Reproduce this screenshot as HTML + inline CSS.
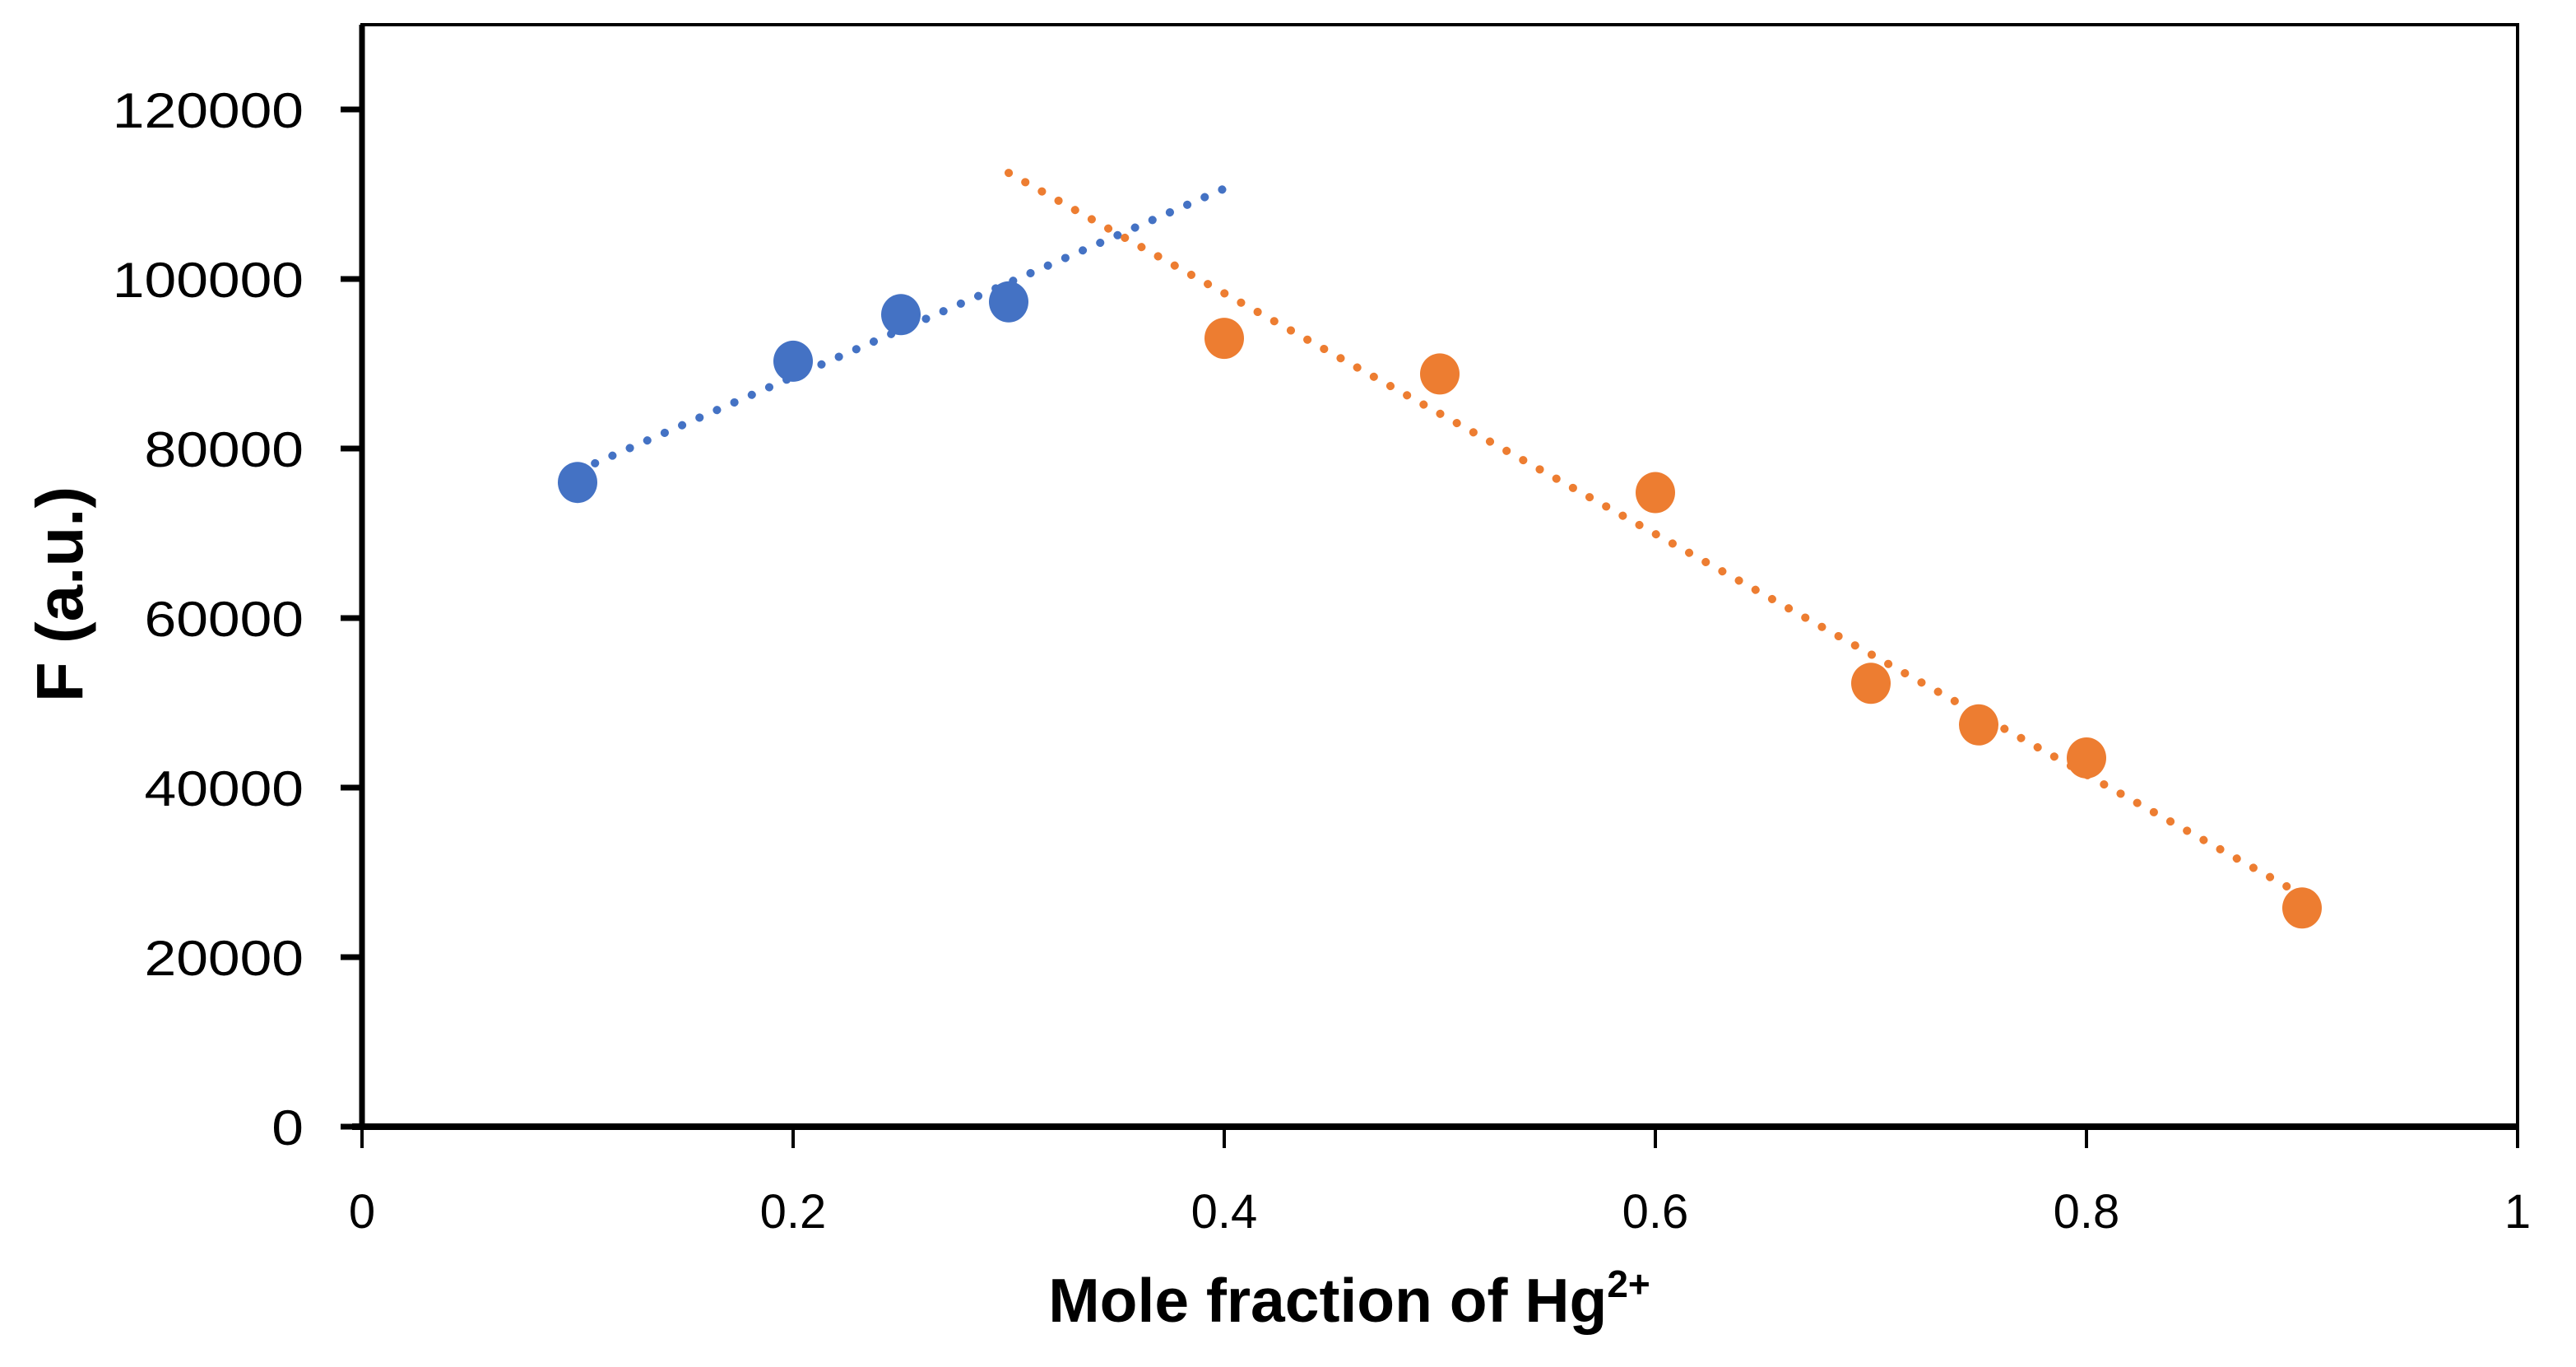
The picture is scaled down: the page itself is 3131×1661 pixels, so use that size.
<!DOCTYPE html>
<html><head><meta charset="utf-8"><style>
html,body{margin:0;padding:0;background:#fff;}
svg{display:block;}
text{font-family:"Liberation Sans",sans-serif;fill:#000;}
</style></head><body>
<svg id="chart" width="3131" height="1661" viewBox="0 0 3131 1661" xmlns="http://www.w3.org/2000/svg">
<rect x="0" y="0" width="3131" height="1661" fill="#fff"/>
<g id="grid"></g>
<g id="trends"></g>
<g id="marks"></g>
<g id="axes"></g>
</svg>
<script>
const xTicks = [0, 0.2, 0.4, 0.6, 0.8, 1];
const xTickLabels = ["0", "0.2", "0.4", "0.6", "0.8", "1"];
const yTicks = [0, 20000, 40000, 60000, 80000, 100000, 120000];
const yTickLabels = ["0", "20000", "40000", "60000", "80000", "100000", "120000"];
const blueX = [0.1, 0.2, 0.25, 0.3];
const blueY = [76000, 90300, 95800, 97300];
const orangeX = [0.4, 0.5, 0.6, 0.7, 0.75, 0.8, 0.9];
const orangeY = [93000, 88800, 74800, 52300, 47400, 43500, 25800];

const L = 440, R = 3060, B = 1369, T = 30;
const yTop = 133;
function sx(v){ return L + (R - L) * v; }
function sy(v){ return B - (B - yTop) * v / 120000; }
const NS = "http://www.w3.org/2000/svg";
function mk(tag, attrs, parent){ const e = document.createElementNS(NS, tag); for (const k in attrs) e.setAttribute(k, attrs[k]); parent.appendChild(e); return e; }
const axes = document.getElementById('axes');
const marks = document.getElementById('marks');
const trends = document.getElementById('trends');

let fr = mk('rect', {x:L, y:T, width:R-L, height:B-T, fill:'none', stroke:'#000', 'stroke-width':4}, axes);


let yl = mk('line', {x1:L, y1:T, x2:L, y2:B, stroke:'#000', 'stroke-width':7}, axes);


let xl = mk('line', {x1:L-12, y1:B, x2:R, y2:B, stroke:'#000', 'stroke-width':8}, axes);



yTicks.forEach((v, i) => {
  const y = sy(v);
  const t = mk('line', {x1:L-26, y1:y, x2:L, y2:y, stroke:'#000', 'stroke-width':7}, axes);
  
  
  const lbl = yTickLabels[i];
  const tx = mk('text', {x:369, y:y+22, 'text-anchor':'end', 'font-size':60, textLength: lbl.length*38.7, lengthAdjust:'spacingAndGlyphs'}, axes);
  tx.textContent = lbl;
  
  
});
xTicks.forEach((v, i) => {
  const x = sx(v);
  const t = mk('line', {x1:x, y1:B, x2:x, y2:B+26, stroke:'#000', 'stroke-width':4}, axes);
  
  
  const tx = mk('text', {x:x, y:1492, 'text-anchor':'middle', 'font-size':58}, axes);
  tx.textContent = xTickLabels[i];
  
  
});

const xt = mk('text', {x:1640, y:1606, 'text-anchor':'middle', 'font-size':75, 'font-weight':'bold'}, axes);


const m = document.createElementNS(NS, 'tspan'); m.textContent = 'Mole fraction of Hg'; xt.appendChild(m);
const sp = document.createElementNS(NS, 'tspan'); sp.setAttribute('dy', '-30'); sp.setAttribute('font-size', '46'); sp.textContent = '2+'; xt.appendChild(sp);

const yt = mk('text', {x:0, y:0, 'text-anchor':'middle', 'font-size':80, 'font-weight':'bold', transform:'translate(100,722) rotate(-90)'}, axes);
yt.textContent = 'F (a.u.)';



function fit(xs, ys){
  const n = xs.length; const mx = xs.reduce((a,b)=>a+b,0)/n; const my = ys.reduce((a,b)=>a+b,0)/n;
  let sxy=0, sxx=0; for (let i=0;i<n;i++){ sxy += (xs[i]-mx)*(ys[i]-my); sxx += (xs[i]-mx)**2; }
  const s = sxy/sxx; return v => my + s*(v-mx);
}
function trend(xs, ys, x0, x1, color, name){
  const f = fit(xs, ys);
  const ln = mk('line', {x1:sx(x0), y1:sy(f(x0)), x2:sx(x1), y2:sy(f(x1)), stroke:color, 'stroke-width':10, 'stroke-linecap':'round', 'stroke-dasharray':'0.1 23'}, trends);
  
  
}
trend(blueX, blueY, blueX[0], blueX[blueX.length-1] + 0.1, '#4472C4', 'blue-trendline');
trend(orangeX, orangeY, orangeX[0] - 0.1, orangeX[orangeX.length-1], '#ED7D31', 'orange-trendline');

blueX.forEach((v, i) => {
  const c = mk('ellipse', {cx:sx(v), cy:sy(blueY[i]), rx:24, ry:25, fill:'#4472C4'}, marks);
  
  
});
orangeX.forEach((v, i) => {
  const c = mk('ellipse', {cx:sx(v), cy:sy(orangeY[i]), rx:24, ry:25, fill:'#ED7D31'}, marks);
  
  
});
</script>
</body></html>
